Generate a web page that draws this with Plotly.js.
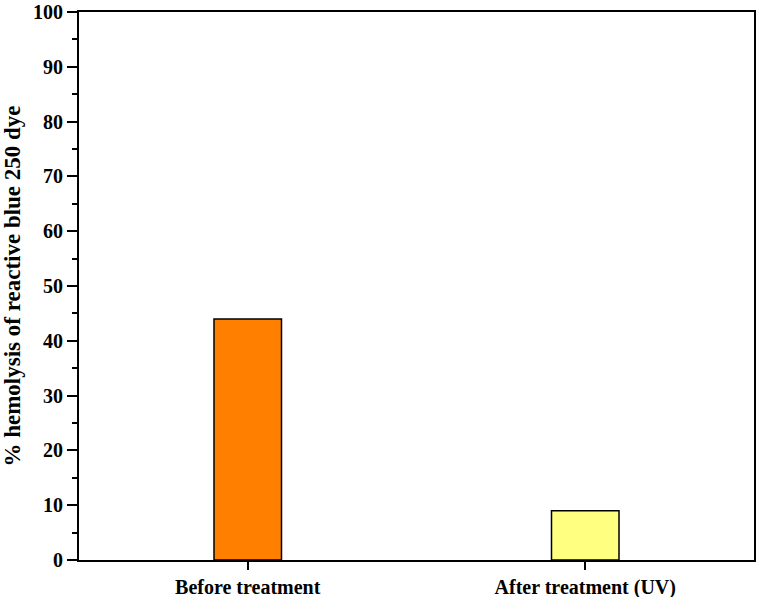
<!DOCTYPE html>
<html>
<head>
<meta charset="utf-8">
<script src="https://cdn.plot.ly/plotly-3.0.1.min.js"></script>
<style>body{margin:0;padding:0;background:#fff;} #chart{width:757px;height:597px;}</style>
</head>
<body>
<div id="chart"></div>
<script>
const categories = ["Before treatment", "After treatment (UV)"];
const hemolysis = [44, 9];
const barColors = ["#FF8000", "#FFFF80"];
const yTickVals = [0, 10, 20, 30, 40, 50, 60, 70, 80, 90, 100];
const yTitle = "% hemolysis of reactive blue 250 dye";

const fontFam = "'Liberation Serif', 'Times New Roman', serif";

const trace = {
  type: "bar",
  x: categories,
  y: hemolysis,
  width: 0.2,
  marker: {color: barColors, line: {color: "#000", width: 1.5}},
  hoverinfo: "none"
};

const layout = {
  width: 757, height: 597,
  margin: {l: 79, r: 3, t: 12, b: 37},
  paper_bgcolor: "#fff", plot_bgcolor: "#fff",
  showlegend: false,
  font: {family: fontFam, color: "#000", size: 20},
  xaxis: {
    type: "category",
    range: [-0.5, 1.5],
    showline: true, linecolor: "#000", linewidth: 2, mirror: true,
    ticks: "outside", ticklen: 8, tickwidth: 2, tickcolor: "#000",
    showgrid: false, zeroline: false,
    tickfont: {family: fontFam, size: 20, color: "#000", weight: "bold"}
  },
  yaxis: {
    range: [0, 100],
    tickvals: yTickVals,
    ticklabeloverflow: "allow",
    showline: true, linecolor: "#000", linewidth: 2, mirror: true,
    ticks: "outside", ticklen: 10, tickwidth: 2, tickcolor: "#000",
    minor: {dtick: 5, ticklen: 5, tickwidth: 2, tickcolor: "#000", ticks: "outside", showgrid: false},
    showgrid: false, zeroline: false,
    tickfont: {family: fontFam, size: 20, color: "#000", weight: "bold"},
    title: {text: yTitle, font: {family: fontFam, size: 23, color: "#000", weight: "bold"}, standoff: 9}
  }
};

Plotly.newPlot("chart", [trace], layout, {staticPlot: true, displayModeBar: false});
</script>
</body>
</html>
